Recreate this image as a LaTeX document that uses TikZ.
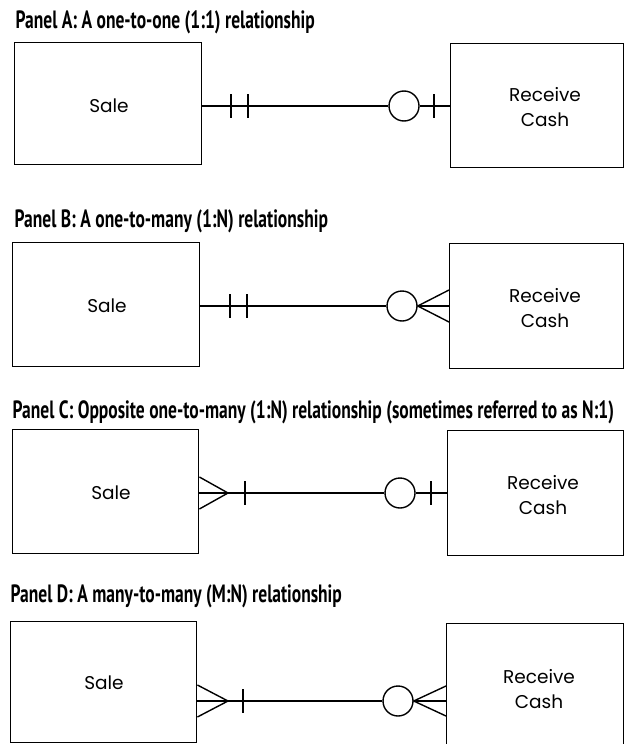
\documentclass[tikz,border=0pt]{standalone}
\usepackage{fontspec}
\setmainfont{Poppins}
\newfontfamily\ttlfont[FakeStretch=0.70]{PT Sans}
\begin{document}
\begin{tikzpicture}[x=1pt,y=-1pt,line width=1.4pt,
  ttl/.style={anchor=base west,inner sep=0pt,font=\ttlfont\bfseries\fontsize{25}{27}\selectfont},
  ent/.style={draw,rectangle,inner sep=0pt,anchor=north west},
  lbl/.style={align=center,inner sep=0pt,font=\fontsize{18.5}{24.5}\selectfont},
  opt/.style={draw,circle,minimum size=30pt,inner sep=0pt,fill=white}]
\useasboundingbox (0,0) rectangle (624,744);
% ---------- Panel A
\node[ttl] (tA) at (15,28) {Panel A: A one-to-one (1:1) relationship};
\node[ent,minimum width=187pt,minimum height=122pt] (sA) at (14,42) {};
\node[ent,minimum width=173pt,minimum height=124pt] (rA) at (450,43) {};
\node[lbl] (sAl) at (109,106) {Sale};
\node[lbl] (rAl) at (545,107) {Receive\\Cash};
\node[opt] (oA) at (404,106) {};
\draw (sA.east |- 0,106) -- (oA.west);
\draw (oA.east) -- (rA.west |- 0,106);
\draw (231,94) -- (231,118) (248,94) -- (248,118) (434,94) -- (434,118);
% ---------- Panel B
\node[ttl] (tB) at (14,227) {Panel B: A one-to-many (1:N) relationship};
\node[ent,minimum width=187pt,minimum height=124pt] (sB) at (12,242) {};
\node[ent,minimum width=174pt,minimum height=125pt] (rB) at (449,243) {};
\node[lbl] (sBl) at (107,306) {Sale};
\node[lbl] (rBl) at (545,308) {Receive\\Cash};
\node[opt] (oB) at (402,306) {};
\draw (sB.east |- 0,306) -- (oB.west);
\draw (oB.east) -- (rB.west |- 0,306);
\draw (230,294) -- (230,318) (247,294) -- (247,318);
\draw (rB.west |- 0,290) -- (oB.east) -- (rB.west |- 0,322);
% ---------- Panel C
\node[ttl] (tC) at (12,418) {Panel C: Opposite one-to-many (1:N) relationship (sometimes referred to as N:1)};
\node[ent,minimum width=186pt,minimum height=124pt] (sC) at (12,429) {};
\node[ent,minimum width=176pt,minimum height=125pt] (rC) at (447,430) {};
\node[lbl] (sCl) at (111,493) {Sale};
\node[lbl] (rCl) at (543,495) {Receive\\Cash};
\node[opt] (oC) at (400,493) {};
\coordinate (cC) at (228,493);
\draw (sC.east |- 0,493) -- (oC.west);
\draw (oC.east) -- (rC.west |- 0,493);
\draw (sC.east |- 0,477) -- (cC) -- (sC.east |- 0,509);
\draw (245,481) -- (245,505) (431,481) -- (431,505);
% ---------- Panel D
\node[ttl] (tD) at (10,602) {Panel D: A many-to-many (M:N) relationship};
\node[ent,minimum width=186pt,minimum height=121pt] (sD) at (10,621) {};
\node[ent,minimum width=177pt,minimum height=125pt] (rD) at (446,623) {};
\node[lbl] (sDl) at (104,683) {Sale};
\node[lbl] (rDl) at (539,689) {Receive\\Cash};
\node[opt] (oD) at (398,701) {};
\coordinate (cD) at (228,701);
\draw (sD.east |- 0,701) -- (oD.west);
\draw (oD.east) -- (rD.west |- 0,701);
\draw (sD.east |- 0,685) -- (cD) -- (sD.east |- 0,717);
\draw (243,689) -- (243,713);
\draw (rD.west |- 0,686) -- (oD.east) -- (rD.west |- 0,716);
\end{tikzpicture}
\end{document}
